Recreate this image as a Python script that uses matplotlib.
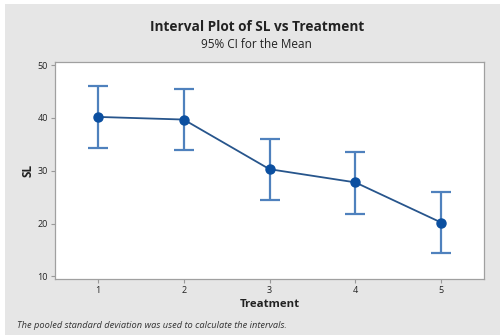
import matplotlib
matplotlib.use("Agg")
import matplotlib.pyplot as plt
from matplotlib.patches import Rectangle

treatments = [1, 2, 3, 4, 5]
means = [40.2, 39.7, 30.3, 27.8, 20.2]
ci_low = [34.4, 34.0, 24.5, 21.9, 14.4]
ci_high = [46.0, 45.5, 36.0, 33.6, 26.0]
yticks = [10, 20, 30, 40, 50]

plt.rcParams['font.family'] = ['Open Sans', 'DejaVu Sans']

fig = plt.figure(figsize=(5, 3.35), dpi=100, facecolor='white')
fig.patches.append(Rectangle((5/500, 0), 1, 1 - 4/335, transform=fig.transFigure,
                             facecolor='#e6e6e6', edgecolor='none', zorder=-10))
ax = fig.add_axes([55/500, 1 - 279/335, 429/500, 217/335])
ax.set_facecolor('white')

lo = [m - l for m, l in zip(means, ci_low)]
hi = [h - m for m, h in zip(means, ci_high)]
ax.errorbar(treatments, means, yerr=[lo, hi], fmt='none', ecolor='#4f81bd',
            elinewidth=1.6, capsize=7, capthick=1.6, zorder=2)
ax.plot(treatments, means, color='#27558c', lw=1.3, zorder=3)
ax.plot(treatments, means, 'o', color='#0b4fa0', ms=6.5, zorder=4)

ax.set_xlim(0.5, 5.5)
ax.set_ylim(9.5, 50.6)
ax.set_xticks(treatments)
ax.set_yticks(yticks)
ax.tick_params(labelsize=6.5, length=3, color='#999999', colors='#222222', pad=2)
for s in ax.spines.values():
    s.set_color('#a0a0a0')
    s.set_linewidth(0.9)

ax.set_xlabel('Treatment', fontsize=8.2, fontweight='bold', color='#222222', labelpad=3)
ax.set_ylabel('SL', fontsize=8.5, fontweight='bold', color='#222222', labelpad=2)

fig.text(0.514, 1 - 27/335, 'Interval Plot of SL vs Treatment', ha='center', va='center',
         fontsize=9.8, fontweight='bold', color='#222222')
fig.text(0.512, 1 - 44/335, '95% CI for the Mean', ha='center', va='center',
         fontsize=8.5, color='#222222')
fig.text(17/500, 1 - 326/335, 'The pooled standard deviation was used to calculate the intervals.',
         ha='left', va='center', fontsize=6.7, style='italic', color='#333333')

fig.savefig('out.png', dpi=100, facecolor=fig.get_facecolor())
